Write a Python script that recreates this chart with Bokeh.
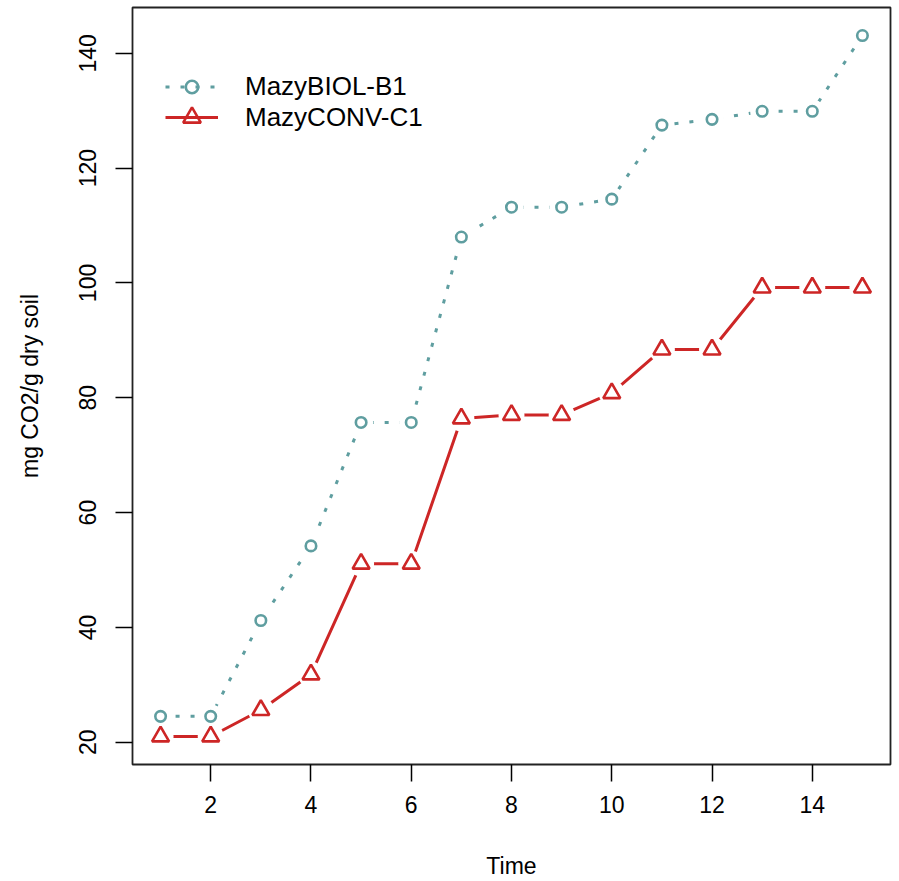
from bokeh.plotting import figure
from bokeh.models import FixedTicker, Legend, LegendItem, ColumnDataSource, Range1d
from bokeh.embed import file_html
from bokeh.resources import INLINE

time = [1, 2, 3, 4, 5, 6, 7, 8, 9, 10, 11, 12, 13, 14, 15]
biol = [24.5, 24.5, 41.2, 54.2, 75.7, 75.7, 108.0, 113.2, 113.2, 114.6, 127.5, 128.5, 129.9, 129.9, 143.1]
conv = [21.0, 21.0, 25.6, 31.8, 51.1, 51.1, 76.4, 77.0, 77.0, 80.8, 88.4, 88.4, 99.2, 99.2, 99.2]
x_ticks = [2, 4, 6, 8, 10, 12, 14]
y_ticks = [20, 40, 60, 80, 100, 120, 140]
names = ["MazyBIOL-B1", "MazyCONV-C1"]

TEAL = "#5F9EA0"
RED = "#CD2626"
FONT = "Liberation Sans"

xmin, xmax = min(time), max(time)
ymin, ymax = min(biol + conv), max(biol + conv)
xp = (xmax - xmin) * 0.04
yp = (ymax - ymin) * 0.04

p = figure(width=893, height=881, output_backend="svg", toolbar_location=None,
           x_range=Range1d(xmin - xp, xmax + xp), y_range=Range1d(ymin - yp, ymax + yp),
           min_border_left=132, min_border_right=3, min_border_top=7, min_border_bottom=116)
p.xgrid.visible = False
p.ygrid.visible = False
p.outline_line_color = "#222222"
p.outline_line_width = 1.8
p.background_fill_color = "white"
p.border_fill_color = "white"

src_b = ColumnDataSource(dict(x=time, y=biol))
src_c = ColumnDataSource(dict(x=time, y=conv))

lc = p.line("x", "y", source=src_c, line_color=RED, line_width=3)
lb = p.line("x", "y", source=src_b, line_color=TEAL, line_width=3, line_dash="4 11")
# gaps around points (type="b")
p.scatter("x", "y", source=src_c, marker="circle", size=26, fill_color="white", line_color=None)
p.scatter("x", "y", source=src_b, marker="circle", size=24, fill_color="white", line_color=None)
mc = p.scatter("x", "y", source=src_c, marker="triangle", size=17, fill_color=None,
               line_color=RED, line_width=2.6)
mb = p.scatter("x", "y", source=src_b, marker="circle", size=10.5, fill_color=None,
               line_color=TEAL, line_width=2.6)

for ax in (p.xaxis[0], p.yaxis[0]):
    ax.axis_line_color = None
    ax.major_tick_out = 17
    ax.major_tick_in = 0
    ax.major_tick_line_width = 1.5
    ax.minor_tick_line_color = None
    ax.major_label_text_font = FONT
    ax.major_label_text_font_size = "23px"
    ax.major_label_text_color = "black"
    ax.axis_label_text_font = FONT
    ax.axis_label_text_font_size = "23px"
    ax.axis_label_text_font_style = "normal"
    ax.axis_label_text_color = "black"

p.xaxis[0].ticker = FixedTicker(ticks=x_ticks)
p.yaxis[0].ticker = FixedTicker(ticks=y_ticks)
p.yaxis[0].major_label_orientation = "vertical"
p.xaxis[0].axis_label = "Time"
p.yaxis[0].axis_label = "mg CO2/g dry soil"
p.xaxis[0].major_label_standoff = 14
p.yaxis[0].major_label_standoff = 19
p.xaxis[0].axis_label_standoff = 37
p.yaxis[0].axis_label_standoff = 34


def make_legend(label, renderers, loc, gh):
    lg = Legend(items=[LegendItem(label=label, renderers=renderers)],
                location=loc, orientation="vertical")
    lg.border_line_color = None
    lg.background_fill_alpha = 0
    lg.padding = 0
    lg.margin = 0
    lg.spacing = 0
    lg.glyph_width = 53
    lg.glyph_height = gh
    lg.label_height = gh
    lg.label_standoff = 27
    lg.label_text_font = FONT
    lg.label_text_font_size = "26px"
    lg.label_text_color = "black"
    return lg


p.add_layout(make_legend(names[0], [lb, mb], (33, 662), 31))
p.add_layout(make_legend(names[1], [lc, mc], (33, 625), 44))

open("out.html", "w").write(file_html(p, INLINE))
